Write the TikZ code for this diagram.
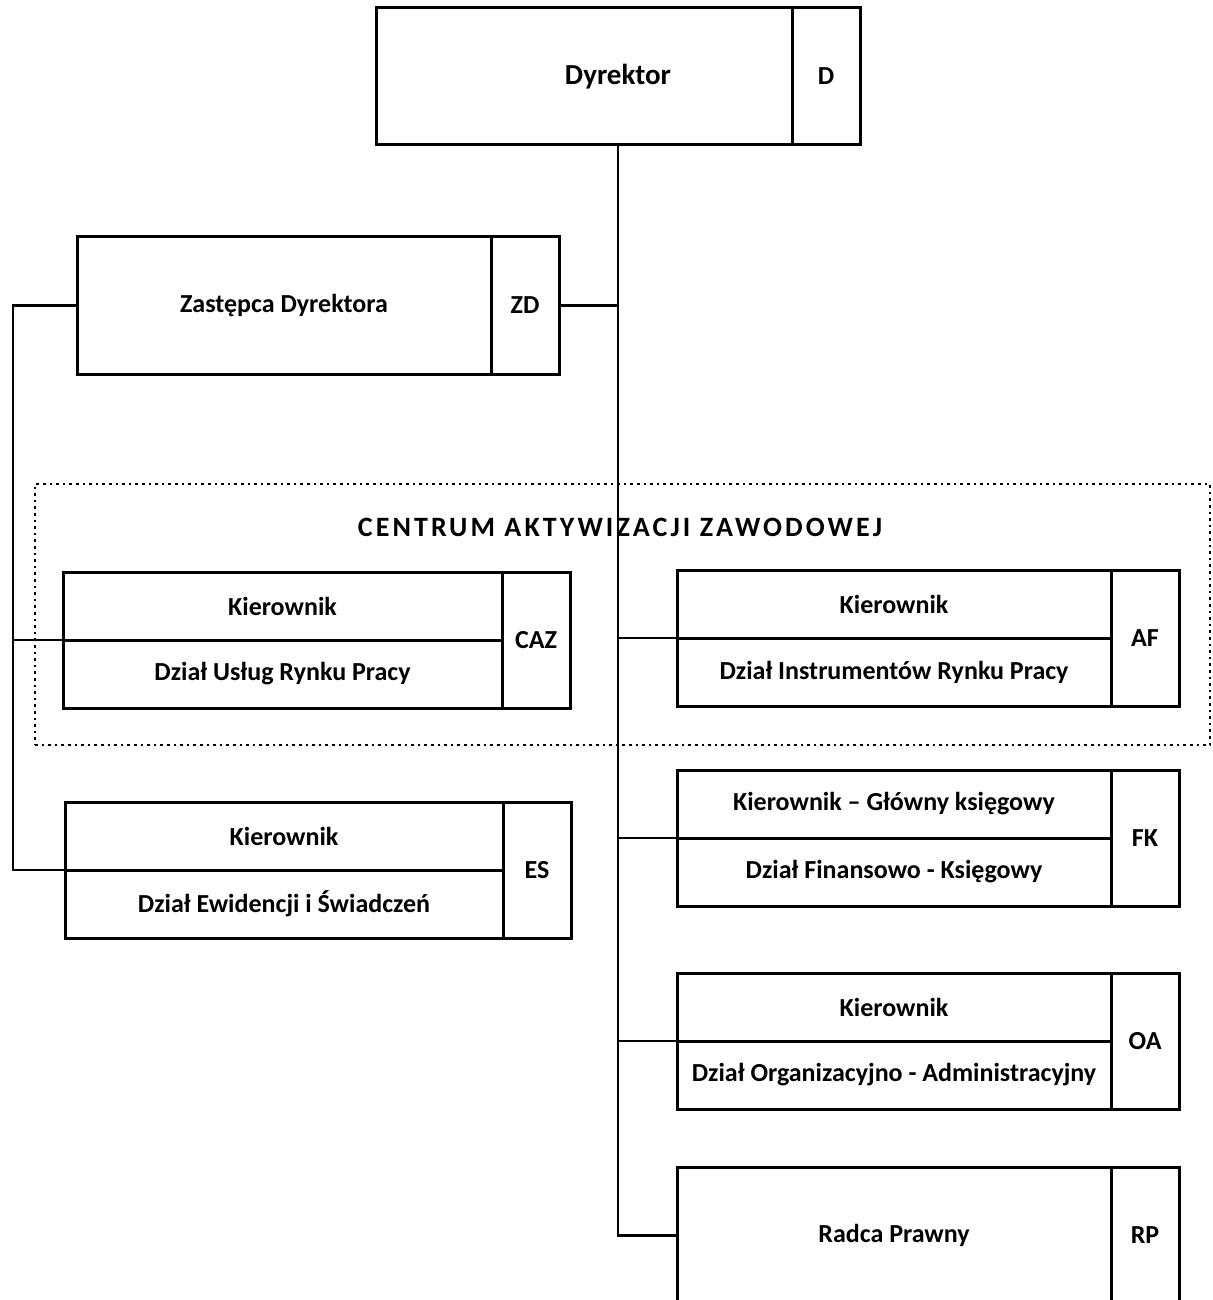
\documentclass[tikz,border=0pt]{standalone}
\usepackage{fontspec}
\setmainfont{Carlito}
\newfontfamily\spacedfont[LetterSpace=11]{Carlito}
\usetikzlibrary{positioning, calc}

\tikzset{
  unit/.style={draw, line width=1.5pt, inner sep=0pt, outer sep=0pt,
               font=\bfseries\fontsize{13}{15}\selectfont},
  half/.style={unit, minimum height=34pt},
  codebox/.style={unit, minimum width=34pt, minimum height=68pt},
  link/.style={line width=1.2pt},
  frame/.style={draw, dotted, line width=1.3pt, inner sep=0pt},
  heading/.style={font=\spacedfont\bfseries\fontsize{14}{16}\selectfont}
}

% unit with two rows: name, x, y, width, top row, bottom row, code
\newcommand{\orgunit}[7]{
  \node[half, minimum width=#4, anchor=north west] (#1top) at (#2, #3) {#5};
  \node[half, minimum width=#4, below=0pt of #1top] (#1bot) {#6};
  \node[codebox, anchor=north west] (#1code) at (#1top.north east) {#7};
}

% unit with one row: name, x, y, width, text, code
\newcommand{\orgsingle}[6]{
  \node[unit, minimum width=#4, minimum height=68.5pt, anchor=north west] (#1) at (#2, #3) {#5};
  \node[codebox, minimum height=68.5pt, anchor=north west] (#1code) at (#1.north east) {#6};
}

\begin{document}
\begin{tikzpicture}[x=0.5pt, y=-0.5pt]

  \useasboundingbox (0, 0) rectangle (1213, 1300);

  % centrum aktywizacji zawodowej
  \node[frame, minimum width=587.5pt, minimum height=130.5pt] (cazframe) at (622.5, 614.5) {};
  \node[heading] (caztitle) at (620, 527) {CENTRUM AKTYWIZACJI ZAWODOWEJ};

  \orgsingle{dyr}{376}{8}{208pt}{\hspace*{34pt}\fontsize{14.5}{16}\selectfont Dyrektor}{D}
  \orgsingle{zd}{77}{237}{207pt}{Zastępca Dyrektora}{ZD}
  \orgsingle{rp}{677}{1167}{217pt}{Radca Prawny}{RP}

  \orgunit{caz}{63}{572}{219.5pt}{Kierownik}{Dział Usług Rynku Pracy}{CAZ}
  \orgunit{af}{677}{570}{217pt}{Kierownik}{Dział Instrumentów Rynku Pracy}{AF}
  \orgunit{es}{65}{802}{219pt}{Kierownik}{Dział Ewidencji i Świadczeń}{ES}
  \orgunit{fk}{677}{770}{217pt}{Kierownik -- Główny księgowy}{Dział Finansowo - Księgowy}{FK}
  \orgunit{oa}{677}{973}{217pt}{Kierownik}{Dział Organizacyjno - Administracyjny}{OA}

  \coordinate (trunk) at ($(dyr.south west)!0.5!(dyrcode.south east)$);
  \coordinate (spine) at (13, 0);

  % right branch
  \draw[link] (trunk) |- (rp.west);
  \draw[link] (zdcode.east) -- (zdcode.east -| trunk);
  \foreach \dept in {af, fk, oa} {
    \draw[link] (\dept top.south west -| trunk) -- (\dept top.south west);
  }

  % left branch
  \draw[link] (zd.west) -- (zd.west -| spine) |- (estop.south west);
  \draw[link] (caztop.south west -| spine) -- (caztop.south west);

\end{tikzpicture}
\end{document}
